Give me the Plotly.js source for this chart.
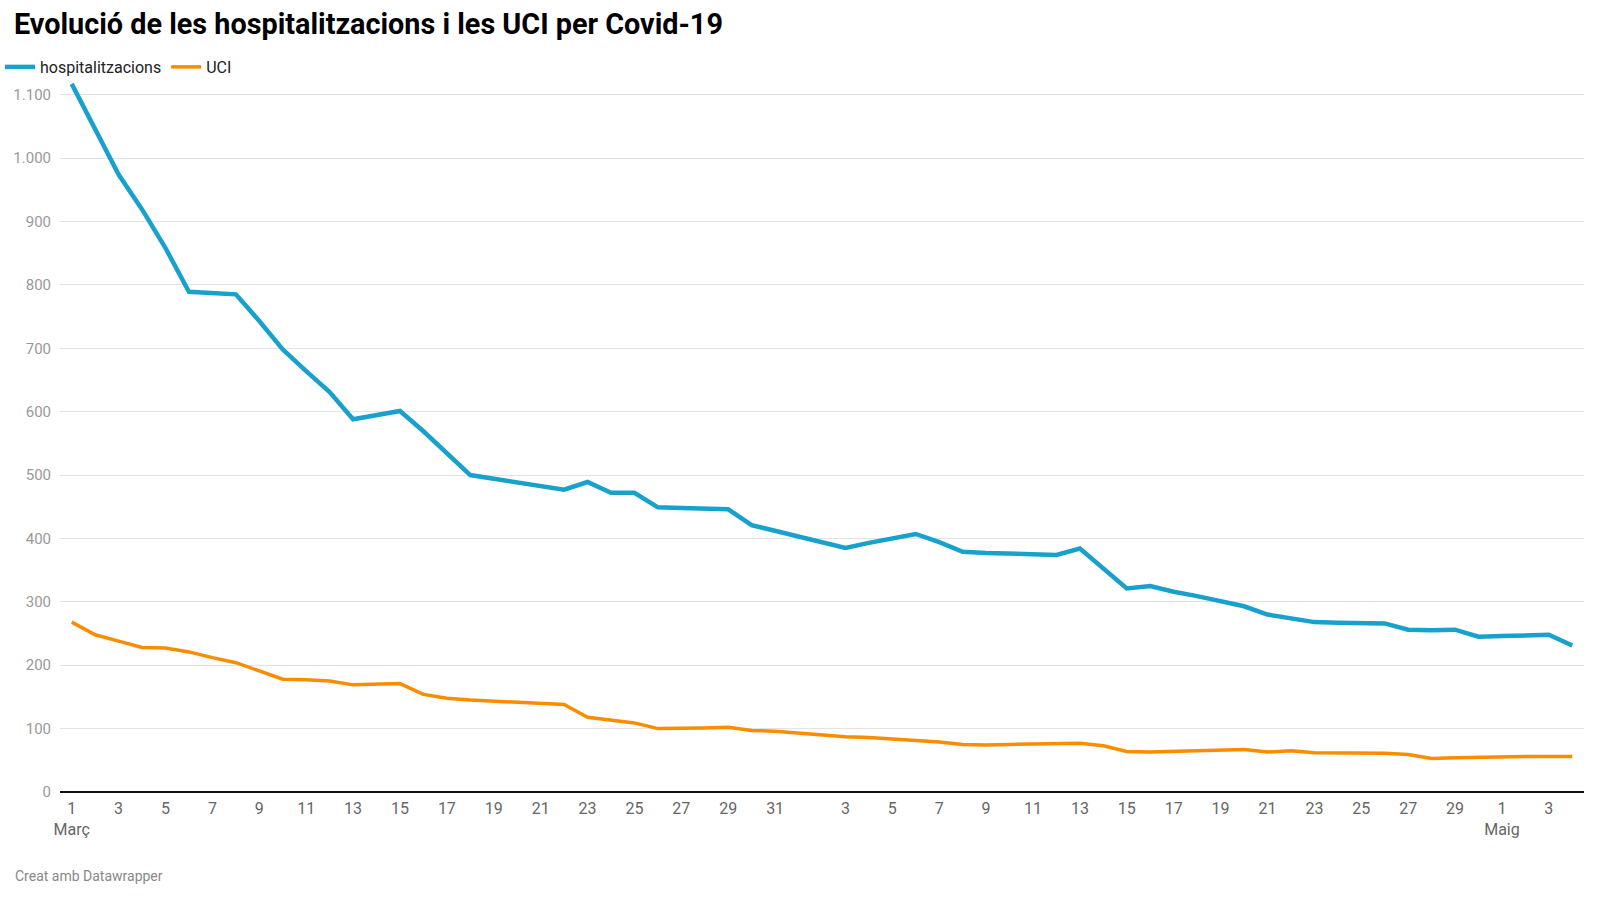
<!DOCTYPE html>
<html>
<head>
<meta charset="utf-8">
<script src="https://cdn.plot.ly/plotly-3.0.1.min.js"></script>
<style>
  html, body { margin: 0; padding: 0; background: #fff; }
  #chart { width: 1600px; height: 900px; }
</style>
</head>
<body>
<div id="chart"></div>
<script>
// ── Data ──────────────────────────────────────────────────────────────────────
const DATES = [
  '2020-03-01','2020-03-02','2020-03-03','2020-03-04','2020-03-05','2020-03-06','2020-03-07','2020-03-08',
  '2020-03-09','2020-03-10','2020-03-11','2020-03-12','2020-03-13','2020-03-14','2020-03-15','2020-03-16',
  '2020-03-17','2020-03-18','2020-03-19','2020-03-20','2020-03-21','2020-03-22','2020-03-23','2020-03-24',
  '2020-03-25','2020-03-26','2020-03-27','2020-03-28','2020-03-29','2020-03-30','2020-03-31',
  '2020-04-01','2020-04-02','2020-04-03','2020-04-04','2020-04-05','2020-04-06','2020-04-07','2020-04-08',
  '2020-04-09','2020-04-10','2020-04-11','2020-04-12','2020-04-13','2020-04-14','2020-04-15','2020-04-16',
  '2020-04-17','2020-04-18','2020-04-19','2020-04-20','2020-04-21','2020-04-22','2020-04-23','2020-04-24',
  '2020-04-25','2020-04-26','2020-04-27','2020-04-28','2020-04-29','2020-04-30',
  '2020-05-01','2020-05-02','2020-05-03','2020-05-04'
];

const HOSP = [
  1117,1047, 974, 919, 858, 789, 787, 785, 743, 698,
   664, 631, 588, 595, 601, 569, 534, 500, 494, 488,
   483, 477, 489, 472, 472, 449, 448, 447, 446, 421,
   412, 404, 395, 385, 393, 400, 407, 394, 379, 377,
   376, 375, 374, 384, 352, 321, 325, 316, 309, 301,
   293, 280, 274, 268, 267, 267, 266, 256, 255, 256,
   245, 246, 247, 248, 231
];

const UCI = [
  268, 248, 238, 228, 227, 221, 212, 204, 191, 178,
  177, 175, 169, 170, 171, 154, 148, 145, 143, 142,
  140, 138, 118, 114, 109, 100, 100, 101, 102,  97,
   96,  93,  90,  87,  86,  84,  82,  79,  75,  74,
   75,  76,  77,  77,  73,  64,  63,  64,  65,  66,
   67,  63,  65,  62,  62,  62,  61,  59,  53,  54,
   55,  55,  56,  56,  56
];

const TICK_DATES = [
  '2020-03-01','2020-03-03','2020-03-05','2020-03-07','2020-03-09','2020-03-11','2020-03-13','2020-03-15',
  '2020-03-17','2020-03-19','2020-03-21','2020-03-23','2020-03-25','2020-03-27','2020-03-29','2020-03-31',
  '2020-04-03','2020-04-05','2020-04-07','2020-04-09','2020-04-11','2020-04-13','2020-04-15','2020-04-17',
  '2020-04-19','2020-04-21','2020-04-23','2020-04-25','2020-04-27','2020-04-29',
  '2020-05-01','2020-05-03'
];
const TICK_TEXT = [
  '1<br>Març','3','5','7','9','11','13','15','17','19','21','23','25','27','29','31',
  '3','5','7','9','11','13','15','17','19','21','23','25','27','29',
  '1<br>Maig','3'
];

const TITLE  = 'Evolució de les hospitalitzacions i les UCI per Covid-19';
const FOOTER = 'Creat amb Datawrapper';

// ── Chart ─────────────────────────────────────────────────────────────────────
const FONT = 'Roboto, "Liberation Sans", sans-serif';
const ML = 60, MR = 16, MT = 82, MB = 108;
const PW = 1600 - ML - MR, PH = 900 - MT - MB;

const traces = [
  {
    x: DATES, y: HOSP, type: 'scatter', mode: 'lines', name: 'hospitalitzacions',
    line: { color: '#18a1cd', width: 4.5, shape: 'linear' },
  },
  {
    x: DATES, y: UCI, type: 'scatter', mode: 'lines', name: 'UCI',
    line: { color: '#fa8c00', width: 3.5, shape: 'linear' },
  },
];

Plotly.newPlot('chart', traces, {
  width: 1600, height: 900,
  paper_bgcolor: '#fff', plot_bgcolor: '#fff',
  separators: ',.',
  font: { family: FONT, color: '#333', size: 15 },
  margin: { t: MT, r: MR, b: MB, l: ML, autoexpand: false },
  title: {
    text: '<b>' + TITLE + '</b>',
    font: { family: FONT, size: 28.8, color: '#000' },
    xref: 'container', yref: 'container',
    x: 14 / 1600, xanchor: 'left',
    y: 1 - 24 / 900, yanchor: 'middle',
  },
  showlegend: true,
  legend: {
    orientation: 'h',
    xref: 'container', yref: 'container',
    x: 0, xanchor: 'left',
    y: 1 - 67 / 900, yanchor: 'middle',
    font: { family: FONT, size: 16, color: '#222' },
    bgcolor: 'rgba(0,0,0,0)',
    itemwidth: 30,
  },
  xaxis: {
    type: 'date',
    range: ['2020-02-29 12:00', '2020-05-04 12:00'],
    tickmode: 'array', tickvals: TICK_DATES, ticktext: TICK_TEXT,
    showgrid: false, zeroline: false, showline: false,
    ticks: '', ticklabelstandoff: 5,
    tickfont: { family: FONT, size: 16, color: '#666' },
    fixedrange: true,
  },
  yaxis: {
    range: [0, 1120],
    tickmode: 'array', tickvals: [0,100,200,300,400,500,600,700,800,900,1000,1100],
    tickformat: ',d',
    showgrid: true, gridcolor: '#e3e3e3', gridwidth: 1,
    zeroline: true, zerolinecolor: '#111', zerolinewidth: 2,
    showline: false, ticks: '',
    tickfont: { family: FONT, size: 15, color: '#999' },
    ticklabelstandoff: 8,
    fixedrange: true,
  },
  annotations: [{
    text: FOOTER,
    xref: 'paper', yref: 'paper',
    x: (13 - ML) / PW, xanchor: 'left',
    y: (792 - 876) / PH, yanchor: 'middle',
    showarrow: false,
    font: { family: FONT, size: 14, color: '#888' },
  }],
}, { displayModeBar: false, staticPlot: true });
</script>
</body>
</html>
